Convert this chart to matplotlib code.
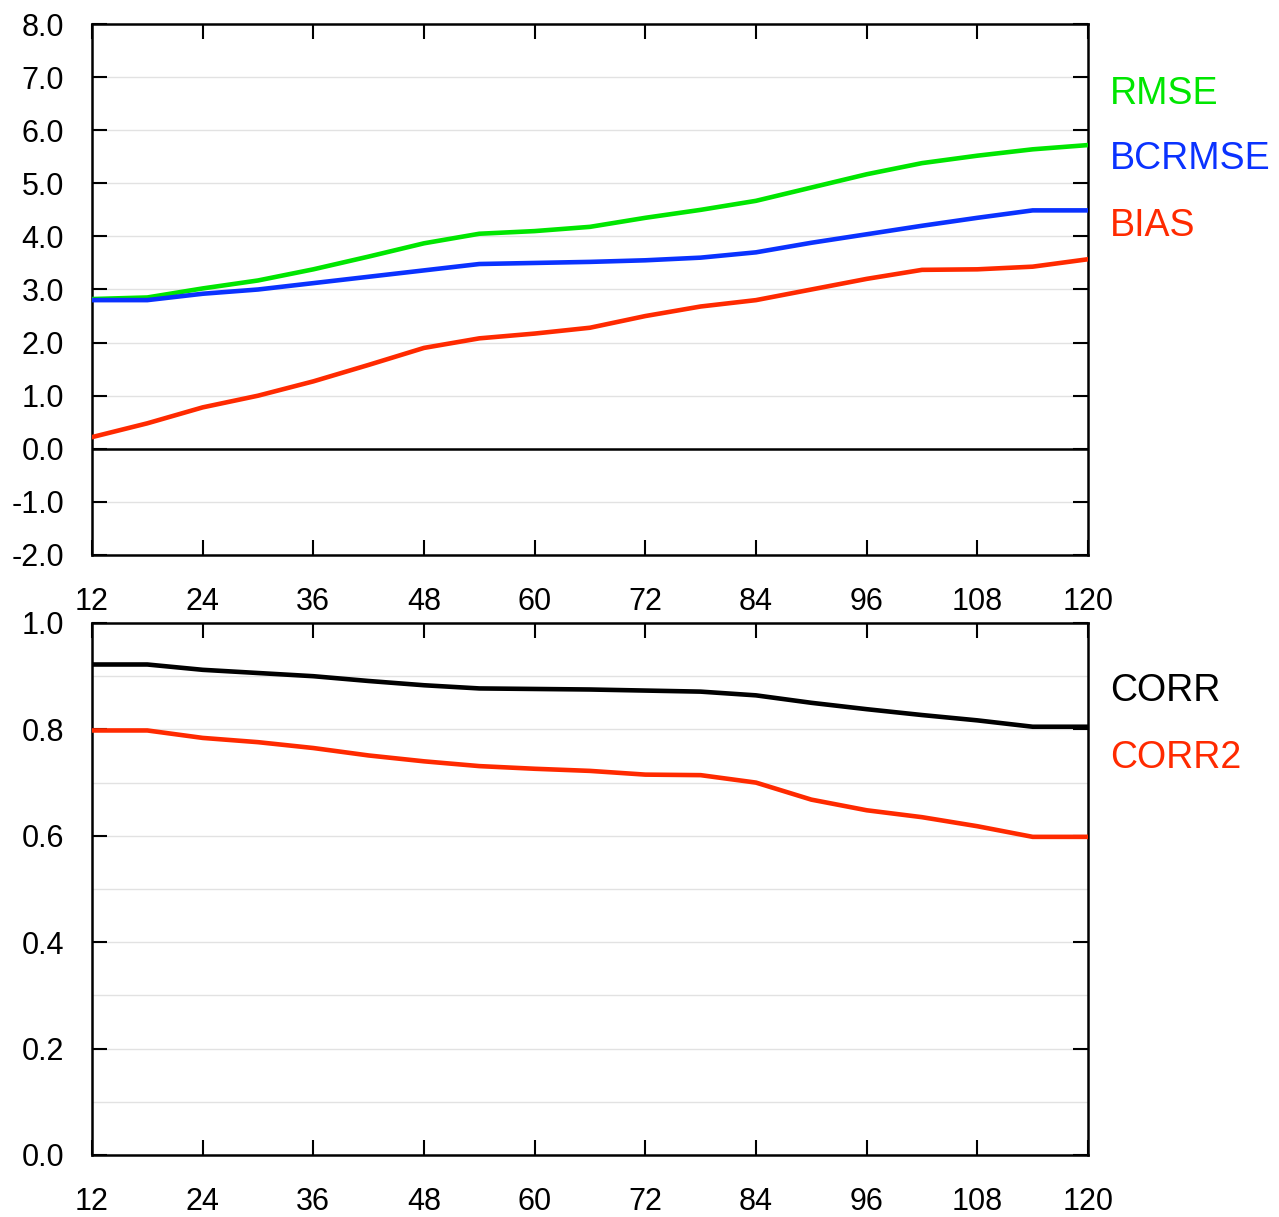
import numpy as np
import matplotlib
matplotlib.use("Agg")
import matplotlib.pyplot as plt

plt.rcParams['font.family'] = ['Liberation Sans', 'DejaVu Sans']

# forecast hours
hours = [12, 18, 24, 30, 36, 42, 48, 54, 60, 66, 72, 78, 84, 90, 96, 102, 108, 114, 120]

# top panel scores
rmse = [2.82, 2.85, 3.02, 3.17, 3.38, 3.62, 3.87, 4.05, 4.10, 4.18,
        4.35, 4.50, 4.67, 4.92, 5.17, 5.38, 5.52, 5.64, 5.72]
bcrmse = [2.80, 2.80, 2.92, 3.00, 3.12, 3.24, 3.36, 3.48, 3.50, 3.52,
          3.55, 3.60, 3.70, 3.88, 4.04, 4.20, 4.35, 4.49, 4.49]
bias = [0.22, 0.48, 0.78, 1.00, 1.27, 1.58, 1.90, 2.08, 2.17, 2.28,
        2.50, 2.68, 2.80, 3.00, 3.20, 3.37, 3.38, 3.43, 3.57]

# bottom panel correlations
corr = [0.922, 0.922, 0.912, 0.906, 0.900, 0.891, 0.883, 0.877, 0.876, 0.875,
        0.873, 0.871, 0.864, 0.850, 0.838, 0.827, 0.817, 0.805, 0.805]
corr2 = [0.798, 0.798, 0.784, 0.776, 0.765, 0.751, 0.740, 0.731, 0.726, 0.722,
         0.715, 0.714, 0.700, 0.668, 0.648, 0.635, 0.618, 0.598, 0.598]

xticks = [12, 24, 36, 48, 60, 72, 84, 96, 108, 120]

GREEN = "#00e600"
BLUE = "#0a32ff"
RED = "#ff2a00"

W, H = 1279, 1217
fig = plt.figure(figsize=(W / 100, H / 100), dpi=100)


def px_axes(x0, y0, x1, y1):
    return fig.add_axes([x0 / W, 1 - y1 / H, (x1 - x0) / W, (y1 - y0) / H])


def style(ax, xpad):
    for s in ax.spines.values():
        s.set_linewidth(1.8)
    ax.set_xlim(12, 120)
    ax.set_xticks(xticks)
    ax.set_xticklabels([str(t) for t in xticks])
    ax.tick_params(axis='both', direction='in', length=11, width=1.5,
                   top=True, right=True)
    ax.tick_params(axis='x', labelsize=22, pad=xpad)
    ax.tick_params(axis='y', labelsize=22, pad=20)


# top panel
ax1 = px_axes(92, 24, 1088, 555)
ax1.set_ylim(-2, 8)
for g in np.arange(-1, 8, 1.0):
    ax1.axhline(g, color="#e2e2e2", lw=1, zorder=0)
ax1.axhline(0, color="black", lw=1.8, zorder=1)
ax1.plot(hours, rmse, color=GREEN, lw=3.3, zorder=3)
ax1.plot(hours, bcrmse, color=BLUE, lw=3.3, zorder=3)
ax1.plot(hours, bias, color=RED, lw=3.3, zorder=3)
ax1.set_yticks(np.arange(-2, 8.1, 1.0))
ax1.set_yticklabels([f"{v:.1f}" for v in np.arange(-2, 8.1, 1.0)])
style(ax1, 23)

fig.text(1110 / W, 1 - 94 / H, "RMSE", color=GREEN, fontsize=27, va='center')
fig.text(1110 / W, 1 - 159 / H, "BCRMSE", color=BLUE, fontsize=27, va='center')
fig.text(1110 / W, 1 - 226 / H, "BIAS", color=RED, fontsize=27, va='center')

# bottom panel
ax2 = px_axes(92, 623, 1088, 1155)
ax2.set_ylim(0, 1)
for g in np.arange(0.1, 1.0, 0.1):
    ax2.axhline(g, color="#e2e2e2", lw=1, zorder=0)
ax2.plot(hours, corr, color="black", lw=3.3, zorder=3)
ax2.plot(hours, corr2, color=RED, lw=3.3, zorder=3)
ax2.set_yticks(np.arange(0, 1.01, 0.2))
ax2.set_yticklabels([f"{v:.1f}" for v in np.arange(0, 1.01, 0.2)])
style(ax2, 23)

fig.text(1110 / W, 1 - 691 / H, "CORR", color="black", fontsize=27, va='center')
fig.text(1110 / W, 1 - 758 / H, "CORR2", color=RED, fontsize=27, va='center')

fig.savefig("out.png", dpi=100)
